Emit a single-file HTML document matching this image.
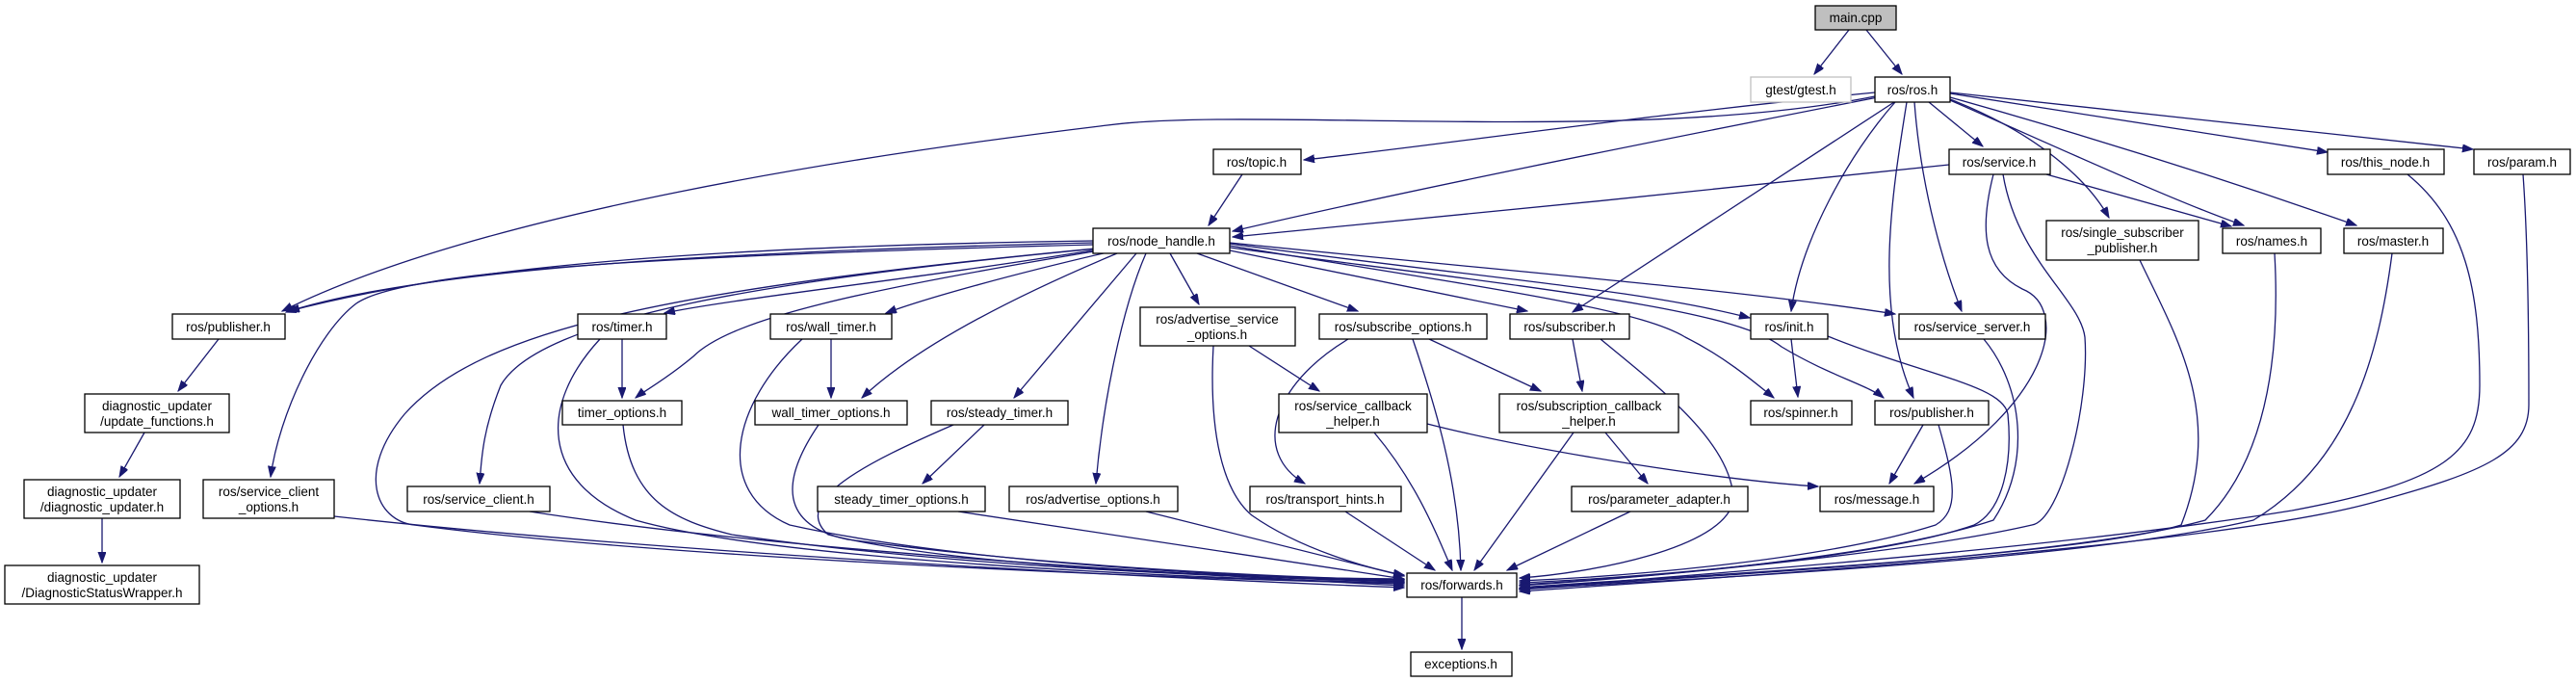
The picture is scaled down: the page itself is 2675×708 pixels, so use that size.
<!DOCTYPE html>
<html><head><meta charset="utf-8"><style>
html,body{margin:0;padding:0;background:#fff;}
svg{display:block;}
text{font-family:"Liberation Sans",sans-serif;font-size:13.5px;fill:#000;}
.e{fill:none;stroke:#191970;stroke-width:1.3;marker-end:url(#a);}
.n{fill:#fff;stroke:#000;stroke-width:1.3;}
</style></head><body>
<svg width="2675" height="708" viewBox="0 0 2675 708" xmlns="http://www.w3.org/2000/svg">
<defs><marker id="a" markerUnits="userSpaceOnUse" markerWidth="12" markerHeight="9" refX="11" refY="4" orient="auto"><path d="M0,0 L11,4 L0,8 z" fill="#191970" stroke="#191970"/></marker></defs>
<g>
<path class="e" d="M1920,31 L1884,77"/>
<path class="e" d="M1938,31 L1975,77"/>
<path class="e" d="M1947,96 C1700,120 1500,150 1354,166"/>
<path class="e" d="M1950,101 C1700,150 1450,200 1280,240"/>
<path class="e" d="M2024,171 C1800,195 1500,225 1280,246"/>
<path class="e" d="M1290,181 L1255,234"/>
<path class="e" d="M1947,100 C1700,150 1300,110 1150,130 C900,160 500,220 293,323"/>
<path class="e" d="M1135,250 C800,255 500,270 300,323"/>
<path class="e" d="M1135,252 C800,260 450,275 297,324"/>
<path class="e" d="M1135,254 C700,265 420,280 370,315 C330,345 290,430 281,495"/>
<path class="e" d="M1137,258 C700,300 500,340 420,430 C370,490 390,540 430,545 C700,580 1200,600 1458,606"/>
<path class="e" d="M1140,258 C800,290 560,330 520,400 C500,450 500,480 498,502"/>
<path class="e" d="M1140,259 C950,290 760,310 690,325"/>
<path class="e" d="M1142,260 C900,300 760,330 720,370 C690,395 670,405 660,413"/>
<path class="e" d="M1150,262 C1050,285 960,310 920,325"/>
<path class="e" d="M1160,263 C1000,330 930,380 895,413"/>
<path class="e" d="M1180,263 L1053,413"/>
<path class="e" d="M1190,263 C1165,320 1145,420 1138,502"/>
<path class="e" d="M1215,263 L1245,316"/>
<path class="e" d="M1243,263 L1410,323"/>
<path class="e" d="M1277,260 L1586,323"/>
<path class="e" d="M1277,253 C1550,290 1700,300 1817,330"/>
<path class="e" d="M1277,255 C1550,300 1700,320 1750,350 C1790,370 1820,395 1842,413"/>
<path class="e" d="M1277,257 C1600,300 1800,320 1850,360 C1900,390 1940,400 1956,413"/>
<path class="e" d="M1277,252 C1600,285 1800,300 1968,326"/>
<path class="e" d="M1967,106 L1633,324"/>
<path class="e" d="M1968,106 C1920,160 1870,250 1860,323"/>
<path class="e" d="M1988,106 C1995,200 2020,280 2037,323"/>
<path class="e" d="M1980,106 C1965,200 1945,320 1987,413"/>
<path class="e" d="M2003,106 L2059,152"/>
<path class="e" d="M2025,103 C2120,140 2170,190 2190,226"/>
<path class="e" d="M2025,104 C2130,150 2260,210 2330,234"/>
<path class="e" d="M2025,101 C2200,150 2350,200 2447,234"/>
<path class="e" d="M2025,97 L2417,158"/>
<path class="e" d="M2025,96 L2568,155"/>
<path class="e" d="M2125,181 L2317,235"/>
<path class="e" d="M2070,181 C2055,240 2060,280 2100,300 C2150,320 2130,420 1988,502"/>
<path class="e" d="M2080,181 C2095,270 2160,310 2165,350 C2170,420 2140,540 2110,545 C1980,575 1700,600 1578,608"/>
<path class="e" d="M2500,181 C2560,230 2575,300 2575,400 C2575,470 2540,500 2380,530 C2100,575 1700,600 1578,612"/>
<path class="e" d="M2620,181 C2625,250 2626,350 2626,420 C2626,470 2580,490 2470,520 C2300,570 1700,605 1578,614"/>
<path class="e" d="M2222,270 C2260,350 2310,430 2265,545 C2150,580 1700,600 1578,610"/>
<path class="e" d="M2362,263 C2367,350 2360,470 2290,540 C2150,580 1700,602 1578,611"/>
<path class="e" d="M2484,263 C2470,370 2440,480 2340,540 C2150,585 1700,603 1578,612"/>
<path class="e" d="M1860,352 L1867,412"/>
<path class="e" d="M1898,349 C2000,390 2080,400 2085,430 C2090,480 2080,530 2050,545 C1950,580 1700,600 1578,605"/>
<path class="e" d="M2060,352 C2100,400 2110,480 2070,540 C1950,580 1700,600 1578,607"/>
<path class="e" d="M1997,441 L1962,502"/>
<path class="e" d="M2013,441 C2030,500 2035,530 2010,545 C1900,580 1700,598 1578,603"/>
<path class="e" d="M227,352 L185,406"/>
<path class="e" d="M150,449 L124,495"/>
<path class="e" d="M106,538 L106,584"/>
<path class="e" d="M347,536 C700,575 1200,600 1458,610"/>
<path class="e" d="M550,531 C800,570 1200,595 1458,608"/>
<path class="e" d="M646,352 L646,413"/>
<path class="e" d="M623,352 C560,420 560,500 660,540 C800,580 1200,600 1458,605"/>
<path class="e" d="M647,441 C655,520 700,540 760,555 C1000,590 1300,600 1458,604"/>
<path class="e" d="M863,352 L863,413"/>
<path class="e" d="M833,352 C760,420 740,510 820,545 C1000,585 1300,600 1458,603"/>
<path class="e" d="M850,441 C810,500 810,545 880,560 C1100,590 1350,600 1458,602"/>
<path class="e" d="M1022,441 L958,502"/>
<path class="e" d="M990,441 C900,480 820,520 860,555 C1000,590 1300,600 1458,601"/>
<path class="e" d="M995,531 L1458,601"/>
<path class="e" d="M1190,531 L1458,598"/>
<path class="e" d="M1260,359 C1255,450 1270,510 1300,535 C1350,570 1420,590 1458,597"/>
<path class="e" d="M1297,359 L1370,406"/>
<path class="e" d="M1400,352 C1320,400 1300,470 1355,502"/>
<path class="e" d="M1467,352 C1490,420 1515,500 1517,592"/>
<path class="e" d="M1484,352 L1600,406"/>
<path class="e" d="M1633,352 L1643,406"/>
<path class="e" d="M1662,352 C1720,400 1800,460 1800,520 C1790,570 1650,595 1578,600"/>
<path class="e" d="M1427,449 C1470,500 1490,550 1508,592"/>
<path class="e" d="M1482,440 C1600,470 1800,500 1888,505"/>
<path class="e" d="M1634,449 L1531,592"/>
<path class="e" d="M1667,449 L1711,502"/>
<path class="e" d="M1397,531 L1490,592"/>
<path class="e" d="M1693,531 L1565,592"/>
<path class="e" d="M1518,620 L1518,674"/>
</g>
<g>
<rect x="1885" y="6" width="84" height="25" fill="#bfbfbf" stroke="#000" stroke-width="1.3"/><text x="1927" y="23" text-anchor="middle">main.cpp</text>
<rect x="1818" y="80" width="104" height="26" fill="#fff" stroke="#bfbfbf" stroke-width="1.3"/><text x="1870" y="98" text-anchor="middle">gtest/gtest.h</text>
<rect class="n" x="1947" y="80" width="78" height="26"/><text x="1986" y="98" text-anchor="middle">ros/ros.h</text>
<rect class="n" x="1260" y="155" width="91" height="26"/><text x="1305" y="173" text-anchor="middle">ros/topic.h</text>
<rect class="n" x="2024" y="155" width="105" height="26"/><text x="2076" y="173" text-anchor="middle">ros/service.h</text>
<rect class="n" x="2417" y="155" width="121" height="26"/><text x="2477" y="173" text-anchor="middle">ros/this_node.h</text>
<rect class="n" x="2569" y="155" width="100" height="26"/><text x="2619" y="173" text-anchor="middle">ros/param.h</text>
<rect class="n" x="1135" y="237" width="142" height="26"/><text x="1206" y="255" text-anchor="middle">ros/node_handle.h</text>
<rect class="n" x="2125" y="229" width="158" height="41"/><text x="2204" y="246" text-anchor="middle">ros/single_subscriber</text><text x="2204" y="262" text-anchor="middle">_publisher.h</text>
<rect class="n" x="2308" y="237" width="102" height="26"/><text x="2359" y="255" text-anchor="middle">ros/names.h</text>
<rect class="n" x="2434" y="237" width="103" height="26"/><text x="2485" y="255" text-anchor="middle">ros/master.h</text>
<rect class="n" x="179" y="326" width="117" height="26"/><text x="237" y="344" text-anchor="middle">ros/publisher.h</text>
<rect class="n" x="600" y="326" width="92" height="26"/><text x="646" y="344" text-anchor="middle">ros/timer.h</text>
<rect class="n" x="800" y="326" width="126" height="26"/><text x="863" y="344" text-anchor="middle">ros/wall_timer.h</text>
<rect class="n" x="1184" y="319" width="161" height="40"/><text x="1264" y="336" text-anchor="middle">ros/advertise_service</text><text x="1264" y="352" text-anchor="middle">_options.h</text>
<rect class="n" x="1370" y="326" width="174" height="26"/><text x="1457" y="344" text-anchor="middle">ros/subscribe_options.h</text>
<rect class="n" x="1568" y="326" width="124" height="26"/><text x="1630" y="344" text-anchor="middle">ros/subscriber.h</text>
<rect class="n" x="1818" y="326" width="80" height="26"/><text x="1858" y="344" text-anchor="middle">ros/init.h</text>
<rect class="n" x="1972" y="326" width="152" height="26"/><text x="2048" y="344" text-anchor="middle">ros/service_server.h</text>
<rect class="n" x="88" y="409" width="150" height="40"/><text x="163" y="426" text-anchor="middle">diagnostic_updater</text><text x="163" y="442" text-anchor="middle">/update_functions.h</text>
<rect class="n" x="584" y="416" width="124" height="25"/><text x="646" y="433" text-anchor="middle">timer_options.h</text>
<rect class="n" x="784" y="416" width="158" height="25"/><text x="863" y="433" text-anchor="middle">wall_timer_options.h</text>
<rect class="n" x="967" y="416" width="142" height="25"/><text x="1038" y="433" text-anchor="middle">ros/steady_timer.h</text>
<rect class="n" x="1328" y="409" width="154" height="40"/><text x="1405" y="426" text-anchor="middle">ros/service_callback</text><text x="1405" y="442" text-anchor="middle">_helper.h</text>
<rect class="n" x="1557" y="409" width="186" height="40"/><text x="1650" y="426" text-anchor="middle">ros/subscription_callback</text><text x="1650" y="442" text-anchor="middle">_helper.h</text>
<rect class="n" x="1818" y="416" width="105" height="25"/><text x="1870" y="433" text-anchor="middle">ros/spinner.h</text>
<rect class="n" x="1947" y="416" width="118" height="25"/><text x="2006" y="433" text-anchor="middle">ros/publisher.h</text>
<rect class="n" x="25" y="498" width="162" height="40"/><text x="106" y="515" text-anchor="middle">diagnostic_updater</text><text x="106" y="531" text-anchor="middle">/diagnostic_updater.h</text>
<rect class="n" x="211" y="498" width="136" height="40"/><text x="279" y="515" text-anchor="middle">ros/service_client</text><text x="279" y="531" text-anchor="middle">_options.h</text>
<rect class="n" x="423" y="505" width="148" height="26"/><text x="497" y="523" text-anchor="middle">ros/service_client.h</text>
<rect class="n" x="849" y="505" width="174" height="26"/><text x="936" y="523" text-anchor="middle">steady_timer_options.h</text>
<rect class="n" x="1048" y="505" width="175" height="26"/><text x="1135" y="523" text-anchor="middle">ros/advertise_options.h</text>
<rect class="n" x="1298" y="505" width="157" height="26"/><text x="1376" y="523" text-anchor="middle">ros/transport_hints.h</text>
<rect class="n" x="1632" y="505" width="183" height="26"/><text x="1723" y="523" text-anchor="middle">ros/parameter_adapter.h</text>
<rect class="n" x="1890" y="505" width="118" height="26"/><text x="1949" y="523" text-anchor="middle">ros/message.h</text>
<rect class="n" x="5" y="587" width="202" height="40"/><text x="106" y="604" text-anchor="middle">diagnostic_updater</text><text x="106" y="620" text-anchor="middle">/DiagnosticStatusWrapper.h</text>
<rect class="n" x="1461" y="595" width="114" height="25"/><text x="1518" y="612" text-anchor="middle">ros/forwards.h</text>
<rect class="n" x="1465" y="677" width="105" height="25"/><text x="1517" y="694" text-anchor="middle">exceptions.h</text>
</g>
</svg>
</body></html>
